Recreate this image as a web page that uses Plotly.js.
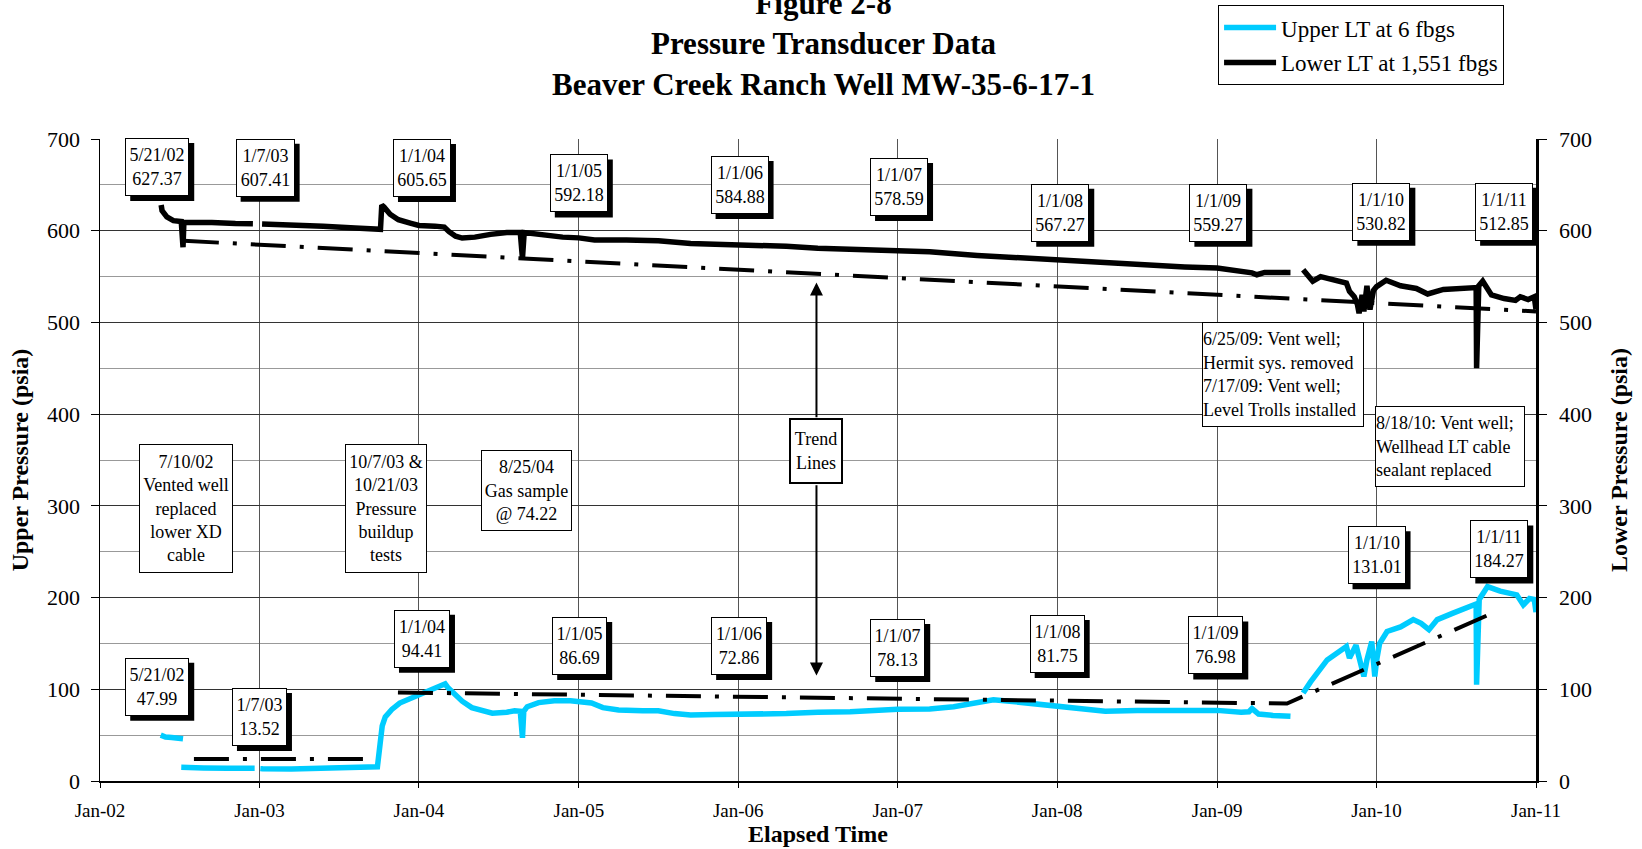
<!DOCTYPE html>
<html><head><meta charset="utf-8">
<script src="https://cdn.plot.ly/plotly-3.0.1.min.js"></script>
<style>html,body{margin:0;padding:0;background:#fff}#chart{width:1642px;height:849px}</style>
</head><body><div id="chart"></div>
<script>
// ---------- DATA ----------
const upperDates = [
 '2002-05-20','2002-05-31','2002-06-14','2002-06-29','2002-07-10',null,
 '2002-07-06','2002-07-21','2002-08-26','2002-10-20','2002-12-14','2002-12-21',null,
 '2003-01-03','2003-01-08','2003-03-15','2003-05-09','2003-07-03','2003-08-08','2003-09-28',
 '2003-10-04','2003-10-09','2003-10-16','2003-10-31','2003-11-18','2003-12-14','2004-01-01',
 '2004-01-19','2004-02-07','2004-02-25','2004-03-01','2004-03-07','2004-03-21','2004-04-09',
 '2004-05-01','2004-05-27','2004-06-17','2004-07-20','2004-08-07','2004-08-20','2004-08-25',
 '2004-08-28','2004-09-05','2004-10-01','2004-11-06','2004-12-13','2005-01-01','2005-01-30',
 '2005-02-25','2005-04-02','2005-05-27','2005-07-02','2005-08-08','2005-09-14','2005-11-07',
 '2006-01-01','2006-02-25','2006-04-21','2006-07-02','2006-09-14','2007-01-01','2007-03-15',
 '2007-05-09','2007-07-02','2007-08-08','2007-09-14','2007-11-07','2008-01-01','2008-02-25',
 '2008-04-20','2008-07-02','2008-09-13','2008-11-06','2009-01-01','2009-02-25','2009-03-15',
 '2009-03-22','2009-04-06','2009-05-09','2009-06-18',null,
 '2009-07-17','2009-08-03','2009-09-10','2009-10-09','2009-10-24','2009-10-31','2009-11-15',
 '2009-12-03','2009-12-10','2009-12-21','2009-12-28','2010-01-01','2010-01-08','2010-01-25',
 '2010-02-25','2010-03-26','2010-04-13','2010-05-01','2010-05-20','2010-06-25','2010-08-08',
 '2010-08-17','2010-08-18','2010-08-24','2010-09-12','2010-10-11','2010-11-18','2010-12-03',
 '2010-12-17','2010-12-28','2011-01-01'
];
const upperPsia = [
 50,48,47.5,46.5,46,null,
 15,14.5,14.2,13.8,13.5,13.8,null,
 13.5,13.3,13.2,13.8,15,15.5,15.5,
 40,60,70,78,85,90,94.4,
 97,101,104,106,102,95,87,
 80,76,74,75,76.5,76,47,
 76,81,85.5,87.5,87.5,86.7,85,
 80,77.5,76.5,76.5,73.5,72,72.5,
 72.9,72.5,73.5,75,75.5,78.1,78.5,
 81,86,88.5,87,84,81.8,79,
 76,77,77.5,76.5,77,75,75.5,
 79,73,71.5,70.5,null,
 96,108,132,141,146.6,134,148,
 114,132,152,114,131,150,163,
 168,176,172,165,176,183,190,
 193,105,198,212,207,203,192,
 199,198,184
];

const lowerDates = [
 '2002-05-21','2002-05-23','2002-06-03','2002-06-18','2002-07-06','2002-07-10','2002-07-12',
 '2002-08-08','2002-09-14','2002-11-07','2002-12-17',null,
 '2003-01-07','2003-03-15','2003-05-27','2003-08-08','2003-10-05','2003-10-08','2003-10-13',
 '2003-10-27','2003-11-15','2003-12-14','2004-01-01','2004-02-07','2004-02-28','2004-03-10',
 '2004-03-25','2004-04-09','2004-05-08','2004-06-13','2004-07-20','2004-08-20','2004-08-25',
 '2004-08-29','2004-10-01','2004-11-25','2005-01-01','2005-02-06','2005-04-20','2005-07-02',
 '2005-09-14','2006-01-01','2006-04-21','2006-07-02','2006-09-14','2007-01-01','2007-03-15',
 '2007-07-02','2007-10-20','2008-01-01','2008-04-20','2008-08-07','2008-10-19','2009-01-01',
 '2009-02-25','2009-03-22','2009-04-02','2009-04-20','2009-06-18',null,
 '2009-07-17','2009-07-28','2009-08-08','2009-08-26','2009-09-17','2009-10-09','2009-10-24',
 '2009-10-31','2009-11-11','2009-11-18','2009-11-22','2009-11-29','2009-12-03','2009-12-10',
 '2009-12-17','2009-12-25','2010-01-01','2010-01-23','2010-02-25','2010-04-02','2010-04-28',
 '2010-06-03','2010-07-21','2010-08-17','2010-08-18','2010-08-23','2010-09-01','2010-09-21',
 '2010-10-20','2010-11-15','2010-11-26','2010-12-14','2010-12-28','2011-01-01'
];
const lowerPsia = [
 628,622,615,611,610,582,609,
 609.5,609,608,607.7,null,
 607.4,606.5,605,603,601.5,628,626,
 618,612,608,605.7,605,604,599,
 594,592,593,596,598,598,570,
 598,596,593,592.2,590,590,589,
 586,584.9,583,581,580,578.6,577,
 573,570,567.3,565,562,560.5,559.3,
 556,554,552,554.5,554.5,null,
 557.5,551,545,550,547,544,543,
 534,528,520,510,530,512,540,
 514,535,539,546,540,537,531,
 536,537,538,450,540,545,530,
 526,524,528,525,528,514
];

const lowerTrendDates = ['2002-07-12','2011-01-01'];
const lowerTrendPsia  = [589,512];
const upperTrendDates = ['2002-08-04','2003-09-02',null,'2003-11-14','2009-06-10','2010-09-23'];
const upperTrendPsia  = [24,24,null,96.5,84.5,183];

const seriesNames = ['Upper LT at 6 fbgs','Lower LT at 1,551 fbgs'];

const lowerReadings = ['5/21/02<br>627.37','1/7/03<br>607.41','1/1/04<br>605.65','1/1/05<br>592.18',
 '1/1/06<br>584.88','1/1/07<br>578.59','1/1/08<br>567.27','1/1/09<br>559.27','1/1/10<br>530.82','1/1/11<br>512.85'];
const upperReadings = ['5/21/02<br>47.99','1/7/03<br>13.52','1/1/04<br>94.41','1/1/05<br>86.69',
 '1/1/06<br>72.86','1/1/07<br>78.13','1/1/08<br>81.75','1/1/09<br>76.98','1/1/10<br>131.01','1/1/11<br>184.27'];
const eventNotes = [
 '7/10/02<br>Vented well<br>replaced<br>lower XD<br>cable',
 '10/7/03 &amp;<br>10/21/03<br>Pressure<br>buildup<br>tests',
 '8/25/04<br>Gas sample<br>@ 74.22',
 '6/25/09: Vent well;<br>Hermit sys. removed<br>7/17/09: Vent well;<br>Level Trolls installed',
 '8/18/10: Vent well;<br>Wellhead LT cable<br>sealant replaced'
];
const trendNote = 'Trend<br>Lines';

// ---------- LAYOUT HELPERS (positions / sizes) ----------
const FONT = '"Liberation Serif", "Times New Roman", Times, serif';
const lowerBoxPos = [
 ['2002-05-12',669.6,62],['2003-01-14',668.7,57],['2004-01-08',668.5,56],['2005-01-01',651.6,56],
 ['2006-01-04',649.8,56],['2007-01-04',647.6,56],['2008-01-08',619.6,56],['2009-01-04',619.6,56],
 ['2010-01-12',620.7,56],['2010-10-20',620.7,56]
];
const upperBoxPos = [
 ['2002-05-12',102.9,62],['2003-01-01',69.8,53],['2004-01-08',155.2,54],['2005-01-03',147.3,53],
 ['2006-01-03',147.3,54],['2007-01-01',145,53],['2008-01-01',149.5,53],['2008-12-29',147.8,53],
 ['2010-01-01',246.2,56],['2010-10-09',252.5,56]
];
const noteBoxPos = [
 ['2002-07-17',297,92,127,'center'],['2003-10-18',297,80,127,'center'],['2004-09-04',316.6,89,79,'center'],
 ['2009-05-31',442.7,160,103,'left'],['2010-06-19',364.7,148,79,'left']
];
const BOX_H = 56;

const annotations = [];
const shapes = [];
function valueBox(text, pos){
  // drop shadow (offset rectangle anchored on the same data point)
  shapes.push({type:'rect', xref:'x', yref:'y', xsizemode:'pixel', ysizemode:'pixel',
    xanchor:pos[0], yanchor:pos[1], x0:-pos[2]/2 - 1 + 5, x1:pos[2]/2 + 1 + 5,
    y0:-BOX_H/2 - 1 - 5, y1:BOX_H/2 + 1 - 5, fillcolor:'#000', line:{width:0}, layer:'above'});
  annotations.push({xref:'x', yref:'y', x:pos[0], y:pos[1], text:text, showarrow:false,
    width:pos[2], height:BOX_H, borderpad:0, borderwidth:1, bordercolor:'#000', bgcolor:'#fff',
    align:'center', valign:'middle', font:{family:FONT, size:18, color:'#000'}});
}
lowerReadings.forEach((t,i)=>valueBox(t, lowerBoxPos[i]));
upperReadings.forEach((t,i)=>valueBox(t, upperBoxPos[i]));
eventNotes.forEach((t,i)=>{
  const p = noteBoxPos[i];
  annotations.push({xref:'x', yref:'y', x:p[0], y:p[1], text:t, showarrow:false,
    width:p[2], height:p[3], borderpad:0, borderwidth:1, bordercolor:'#000', bgcolor:'#fff',
    align:p[4], valign:'middle', font:{family:FONT, size:18, color:'#000'}});
});
// Trend lines note with arrows
annotations.push({xref:'x', yref:'y', x:'2006-06-29', y:543.6, ax:'2006-06-29', ay:394.9,
  axref:'x', ayref:'y', text:'', showarrow:true, arrowhead:2, arrowsize:1.3, arrowwidth:2, arrowcolor:'#000', standoff:0});
annotations.push({xref:'x', yref:'y', x:'2006-06-29', y:115, ax:'2006-06-29', ay:324,
  axref:'x', ayref:'y', text:'', showarrow:true, arrowhead:2, arrowsize:1.3, arrowwidth:2, arrowcolor:'#000', standoff:0});
annotations.push({xref:'x', yref:'y', x:'2006-06-29', y:359.4, text:trendNote, showarrow:false,
  width:50, height:62, borderpad:0, borderwidth:2, bordercolor:'#000', bgcolor:'#fff',
  font:{family:FONT, size:18, color:'#000'}});
// Title block
annotations.push({xref:'paper', yref:'paper', x:0.5037, y:1, yanchor:'middle', yshift:95, showarrow:false,
  text:'Figure 2-8<br>Pressure Transducer Data<br>Beaver Creek Ranch Well MW-35-6-17-1',
  font:{family:FONT, size:31, color:'#000', weight:'bold'}});

const traces = [
  {x:upperDates, y:upperPsia, name:seriesNames[0], type:'scatter', mode:'lines', legendgroup:'u',
   line:{color:'#00CCFF', width:5.5}, connectgaps:false, yaxis:'y'},
  {x:lowerDates, y:lowerPsia, name:seriesNames[1], type:'scatter', mode:'lines', legendgroup:'l',
   line:{color:'#000', width:5.5}, connectgaps:false, yaxis:'y2'},
  {x:lowerTrendDates, y:lowerTrendPsia, type:'scatter', mode:'lines', showlegend:false, hoverinfo:'skip',
   line:{color:'#000', width:4, dash:'35px,14px,4px,14px'}, yaxis:'y2'},
  {x:upperTrendDates, y:upperTrendPsia, type:'scatter', mode:'lines', showlegend:false, hoverinfo:'skip',
   line:{color:'#000', width:4, dash:'35px,14px,4px,14px'}, connectgaps:false, yaxis:'y'}
];

const tickFont = {family:FONT, size:22, color:'#000'};
const axTitleFont = {family:FONT, size:24, color:'#000', weight:'bold'};
const layout = {
  width:1642, height:849,
  margin:{l:100, r:106, t:139, b:68},
  paper_bgcolor:'#fff', plot_bgcolor:'#fff',
  showlegend:true,
  legend:{xref:'paper', yref:'container', x:0.7786, y:0.994, xanchor:'left', yanchor:'top',
    bgcolor:'#fff', itemwidth:52,
    bordercolor:'#000', borderwidth:1, font:{family:FONT, size:23, color:'#000'}, tracegroupgap:2},
  xaxis:{type:'date', range:['2002-01-01','2011-01-01'], tick0:'2002-01-01', dtick:'M12',
    tickformat:'%b-%y', ticks:'outside', ticklen:5, tickcolor:'#000', showline:true, linecolor:'#000',
    linewidth:2, showgrid:true, gridcolor:'#555', gridwidth:1, zeroline:false,
    tickfont:{family:FONT, size:19, color:'#000'}, ticklabelstandoff:6,
    title:{text:'Elapsed Time', font:axTitleFont, standoff:4}},
  yaxis:{range:[0,700], tick0:0, dtick:100, ticks:'outside', ticklen:8, tickcolor:'#000',
    showline:true, linecolor:'#000', linewidth:1.5, showgrid:true, gridcolor:'#333', gridwidth:1,
    minor:{dtick:50, showgrid:true, gridcolor:'#999', gridwidth:1}, zeroline:false,
    tickfont:tickFont, ticklabelstandoff:6,
    title:{text:'Upper Pressure (psia)', font:axTitleFont, standoff:11}},
  yaxis2:{overlaying:'y', side:'right', range:[0,700], tick0:0, dtick:100, ticks:'outside', ticklen:8,
    tickcolor:'#000', showline:true, linecolor:'#000', linewidth:2.5, showgrid:false, zeroline:false,
    tickfont:tickFont, ticklabelstandoff:8,
    title:{text:'Lower Pressure (psia)', font:axTitleFont, standoff:20}},
  shapes:shapes,
  annotations:annotations
};
Plotly.newPlot('chart', traces, layout, {displayModeBar:false, staticPlot:true});
</script>
</body></html>
